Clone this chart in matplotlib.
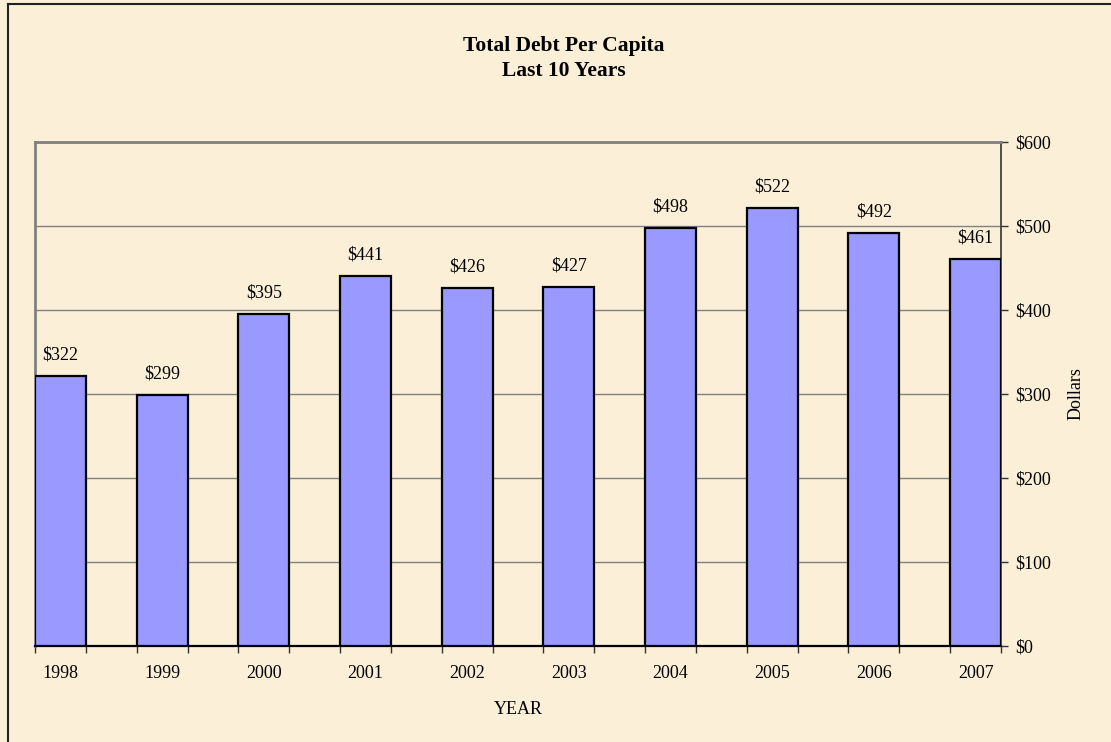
"""Total Debt Per Capita - last 10 years"""
import numpy as np
import matplotlib.pyplot as plt
from matplotlib.lines import Line2D

years = ['1998', '1999', '2000', '2001', '2002', '2003', '2004', '2005', '2006', '2007']
debt = [322, 299, 395, 441, 426, 427, 498, 522, 492, 461]
y_ticks = [0, 100, 200, 300, 400, 500, 600]

plt.rcParams['font.family'] = 'Liberation Serif'

bg = '#FBF0D7'
fig = plt.figure(figsize=(11.11, 7.42), dpi=100, facecolor=bg)
ax = fig.add_axes([35 / 1111, 1 - 646 / 742, 966 / 1111, 504 / 742])
ax.set_facecolor(bg)

x = np.arange(len(years))
bars = ax.bar(x, debt, width=0.5, align='edge', color='#9999FF',
              edgecolor='black', linewidth=1.6, zorder=3)

for xi, v in zip(x, debt):
    ax.annotate('$%d' % v, (xi + 0.25, v), xytext=(0, 9), textcoords='offset points',
                ha='center', va='bottom', fontsize=13)

ax.set_xlim(0, len(years) - 0.5)
ax.set_ylim(0, 600)

# category ticks at every slot boundary, labels under bars
ax.set_xticks(np.arange(0, len(years), 0.5))
ax.set_xticklabels([])
ax.set_xticks(x + 0.25, minor=True)
ax.set_xticklabels(years, minor=True, fontsize=13)
ax.tick_params(axis='x', which='major', direction='out', length=5, width=1, color='#333333')
ax.tick_params(axis='x', which='minor', length=0, pad=14)

ax.yaxis.tick_right()
ax.yaxis.set_label_position('right')
ax.set_yticks(y_ticks)
ax.set_yticklabels(['$%d' % t for t in y_ticks], fontsize=13)
ax.tick_params(axis='y', direction='out', length=5, width=1, color='#333333', pad=5)

ax.grid(axis='y', color='#808080', linewidth=1, zorder=0)

ax.spines['left'].set_color('#808080')
ax.spines['left'].set_linewidth(2)
ax.spines['top'].set_color('#808080')
ax.spines['top'].set_linewidth(2)
ax.spines['right'].set_color('#333333')
ax.spines['right'].set_linewidth(1.2)
ax.spines['bottom'].set_color('black')
ax.spines['bottom'].set_linewidth(1.6)

ax.set_xlabel('YEAR', fontsize=13, labelpad=13)
ax.set_ylabel('Dollars', fontsize=13, labelpad=12)

fig.text(564 / 1111, 1 - 46 / 742, 'Total Debt Per Capita', ha='center', va='center',
         fontsize=15.5, fontweight='bold')
fig.text(564 / 1111, 1 - 71 / 742, 'Last 10 Years', ha='center', va='center',
         fontsize=15.5, fontweight='bold')

# outer chart border (top and left edges visible)
fig.add_artist(Line2D([8 / 1111, 1.0], [1 - 4 / 742, 1 - 4 / 742], color='#222222', linewidth=1.5))
fig.add_artist(Line2D([8 / 1111, 8 / 1111], [0, 1 - 4 / 742], color='#222222', linewidth=1.5))

fig.savefig('out.png', dpi=100, facecolor=bg)
